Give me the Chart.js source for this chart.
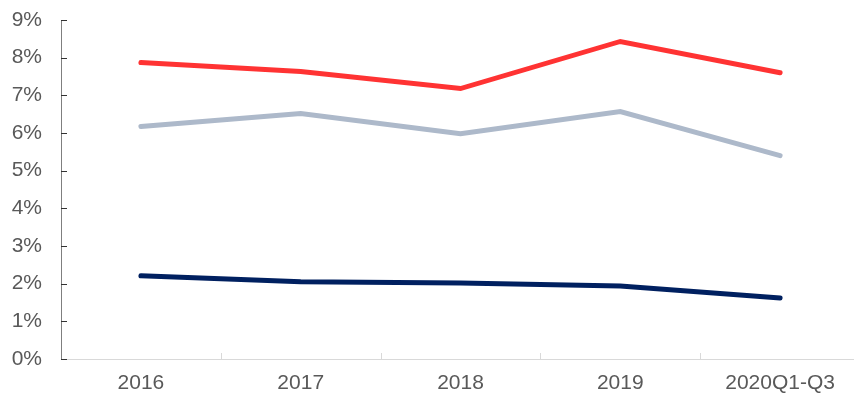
<!DOCTYPE html>
<html>
<head>
<meta charset="utf-8">
<script src="https://cdn.jsdelivr.net/npm/chart.js@4"></script>
<style>
    body { margin: 0; overflow: hidden; background: #fff; }
    #wrap { width: 860px; height: 401px; }
</style>
</head>
<body>
<div id="wrap"><canvas id="myChart" width="860" height="401"></canvas></div>
<script>
var categorias = ["2016", "2017", "2018", "2019", "2020Q1-Q3"];
var serieVermelha = [7.87, 7.63, 7.18, 8.43, 7.60];
var serieCinza = [6.17, 6.52, 5.98, 6.57, 5.40];
var serieAzul = [2.21, 2.05, 2.02, 1.94, 1.62];
var yTicks = [0, 1, 2, 3, 4, 5, 6, 7, 8, 9];

// ticks drawn on the inside of the axes, as in the original
var innerTicks = {
    id: "innerTicks",
    afterDraw: function (chart) {
        var ctx = chart.ctx;
        var x = chart.scales.x;
        var y = chart.scales.y;
        ctx.save();
        ctx.lineWidth = 1;
        ctx.strokeStyle = "#d9d9d9";
        for (var i = 1; i < categorias.length; i++) {
            var px = Math.round((x.getPixelForTick(i - 1) + x.getPixelForTick(i)) / 2) + 0.5;
            ctx.beginPath();
            ctx.moveTo(px, y.bottom);
            ctx.lineTo(px, y.bottom - 6);
            ctx.stroke();
        }
        ctx.strokeStyle = "#333333";
        for (var v of yTicks) {
            var py = Math.round(y.getPixelForValue(v)) + 0.5;
            ctx.beginPath();
            ctx.moveTo(x.left, py);
            ctx.lineTo(x.left + 6, py);
            ctx.stroke();
        }
        ctx.restore();
    }
};

var ctx = document.getElementById("myChart").getContext("2d");
var myChart = new Chart(ctx, {
    type: "line",
    data: {
        labels: categorias,
        datasets: [{
            data: serieVermelha,
            borderColor: "#ff3333",
            borderWidth: 5,
            pointRadius: 0,
            borderCapStyle: "round"
        }, {
            data: serieCinza,
            borderColor: "#adb9ca",
            borderWidth: 5,
            pointRadius: 0,
            borderCapStyle: "round"
        }, {
            data: serieAzul,
            borderColor: "#002060",
            borderWidth: 5,
            pointRadius: 0,
            borderCapStyle: "round"
        }]
    },
    options: {
        responsive: false,
        animation: false,
        layout: { padding: { top: 20, left: 12, right: 0, bottom: 0 } },
        plugins: {
            legend: { display: false },
            tooltip: { enabled: false }
        },
        scales: {
            x: {
                offset: true,
                grid: { display: false, drawTicks: false },
                border: { color: "#d9d9d9", width: 1 },
                afterFit: function (axis) {
                    axis.height = 42;
                    axis.paddingLeft = 0;
                    axis.paddingRight = 0;
                },
                ticks: {
                    color: "#595959",
                    padding: 12,
                    maxRotation: 0,
                    font: { family: "Liberation Sans", size: 21 }
                }
            },
            y: {
                min: 0,
                max: 9,
                grid: { display: false, drawTicks: false },
                border: { color: "#7f7f7f", width: 1 },
                afterBuildTicks: function (axis) {
                    axis.ticks = yTicks.map(function (v) { return { value: v }; });
                },
                afterFit: function (axis) {
                    axis.width = 49;
                    axis.paddingTop = 0;
                },
                ticks: {
                    color: "#595959",
                    padding: 19,
                    font: { family: "Liberation Sans", size: 21 },
                    callback: function (v) { return v + "%"; }
                }
            }
        }
    },
    plugins: [innerTicks]
});
</script>
</body>
</html>
